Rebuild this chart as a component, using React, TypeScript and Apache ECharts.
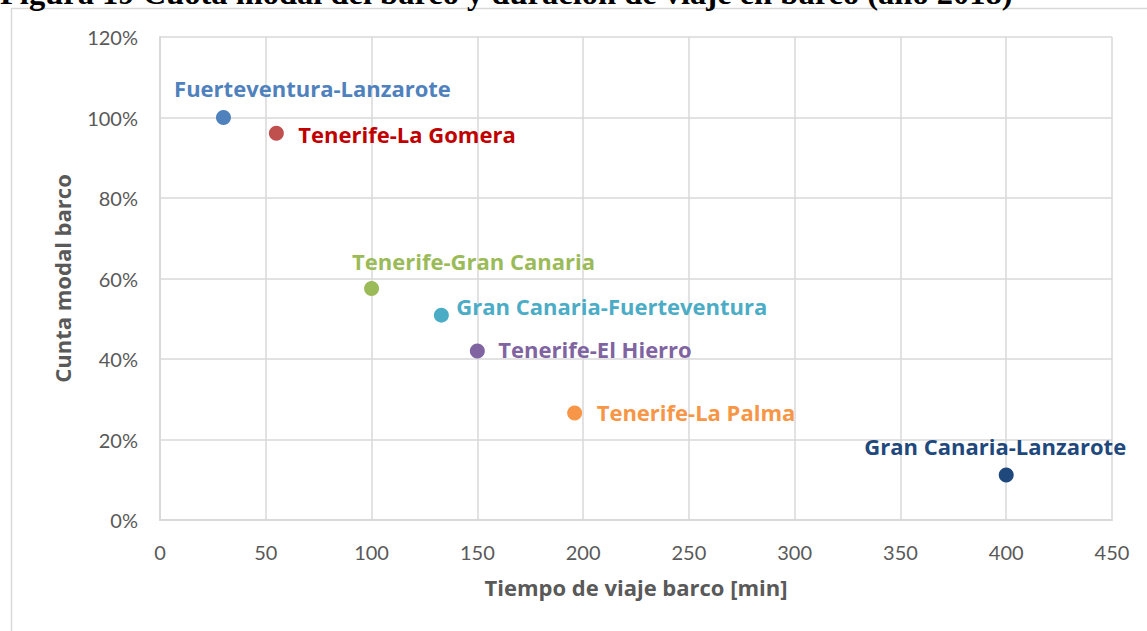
import React, { useEffect, useRef } from "react";
import * as echarts from "echarts";

const routeNames = [
  "Fuerteventura-Lanzarote",
  "Tenerife-La Gomera",
  "Tenerife-Gran Canaria",
  "Gran Canaria-Fuerteventura",
  "Tenerife-El Hierro",
  "Tenerife-La Palma",
  "Gran Canaria-Lanzarote",
];
const travelTimes = [30, 55, 100, 133, 150, 196, 400];
const modalShares = [1.0, 0.961, 0.575, 0.509, 0.42, 0.266, 0.112];
const pointColors = ["#4F81BD", "#C0504D", "#9BBB59", "#4BACC6", "#8064A2", "#F79646", "#1F497D"];
const labelColors = ["#4F81BD", "#C00000", "#9BBB59", "#4BACC6", "#8064A2", "#F79646", "#1F497D"];
// label layout: [align, dx, dy]
const labelLayout: [string, number, number][] = [
  ["center", 89, -30],
  ["left", 22, 1],
  ["center", 102, -28],
  ["left", 15, -9],
  ["left", 21, -2],
  ["left", 22, -1],
  ["center", -11, -29],
];
const xTicks = [0, 450, 50];
const yTicks = [0, 1.2, 0.2];
const titleText = "Figura 19 Cuota modal del barco y duración de viaje en barco (año 2018)";

export default function App() {
  const ref = useRef<HTMLDivElement>(null);
  useEffect(() => {
    if (!ref.current) return;
    const chart = echarts.init(ref.current, undefined, { renderer: "svg" });
    const font = "Lato";
    const boldFont = "Open Sans";
    chart.setOption({
      animation: false,
      backgroundColor: "#ffffff",
      textStyle: { fontFamily: font },
      graphic: [
        {
          type: "rect",
          shape: { x: 11.5, y: 8.5, width: 1300, height: 800 },
          style: { fill: "none", stroke: "#d9d9d9", lineWidth: 1.5 },
          silent: true,
        },
        {
          type: "text",
          x: 0,
          y: -7,
          style: {
            text: titleText,
            font: "bold 32.5px 'Liberation Serif'",
            fill: "#000000",
            verticalAlign: "middle",
          },
        },
      ],
      grid: { left: 160, right: 35, top: 37, bottom: 111 },
      xAxis: {
        type: "value",
        min: xTicks[0],
        max: xTicks[1],
        interval: xTicks[2],
        name: "Tiempo de viaje barco [min]",
        nameLocation: "middle",
        nameGap: 56,
        nameTextStyle: { color: "#595959", fontSize: 22, fontWeight: "bold", fontFamily: boldFont },
        axisLine: { show: true, lineStyle: { color: "#d9d9d9", width: 2 } },
        axisTick: { show: false },
        axisLabel: { color: "#595959", fontSize: 20, margin: 22, fontFamily: font },
        splitLine: { show: true, lineStyle: { color: "#d9d9d9", width: 1.5 } },
      },
      yAxis: {
        type: "value",
        min: yTicks[0],
        max: yTicks[1],
        interval: yTicks[2],
        name: "Cunta modal barco",
        nameLocation: "middle",
        nameGap: 87,
        nameTextStyle: { color: "#595959", fontSize: 22, fontWeight: "bold", fontFamily: boldFont },
        axisLine: { show: true, lineStyle: { color: "#d9d9d9", width: 2 } },
        axisTick: { show: false },
        axisLabel: {
          color: "#595959",
          fontSize: 20,
          margin: 22,
          fontFamily: font,
          formatter: (v: number) => Math.round(v * 100) + "%",
        },
        splitLine: { show: true, lineStyle: { color: "#d9d9d9", width: 1.5 } },
      },
      series: [
        {
          type: "scatter",
          symbol: "circle",
          symbolSize: 15,
          itemStyle: { opacity: 1 },
          data: routeNames.map((n, i) => ({
            name: n,
            value: [travelTimes[i], modalShares[i]],
            itemStyle: { color: pointColors[i], opacity: 1 },
            label: {
              show: true,
              position: "inside",
              formatter: n,
              align: labelLayout[i][0],
              verticalAlign: "middle",
              offset: [labelLayout[i][1], labelLayout[i][2]],
              color: labelColors[i],
              fontSize: 22,
              fontWeight: "bold",
              fontFamily: boldFont,
            },
          })),
        },
      ],
    });
    return () => chart.dispose();
  }, []);
  return (
    <div
      ref={ref}
      style={{ position: "fixed", left: 0, top: 0, width: 1147, height: 631 }}
    />
  );
}
